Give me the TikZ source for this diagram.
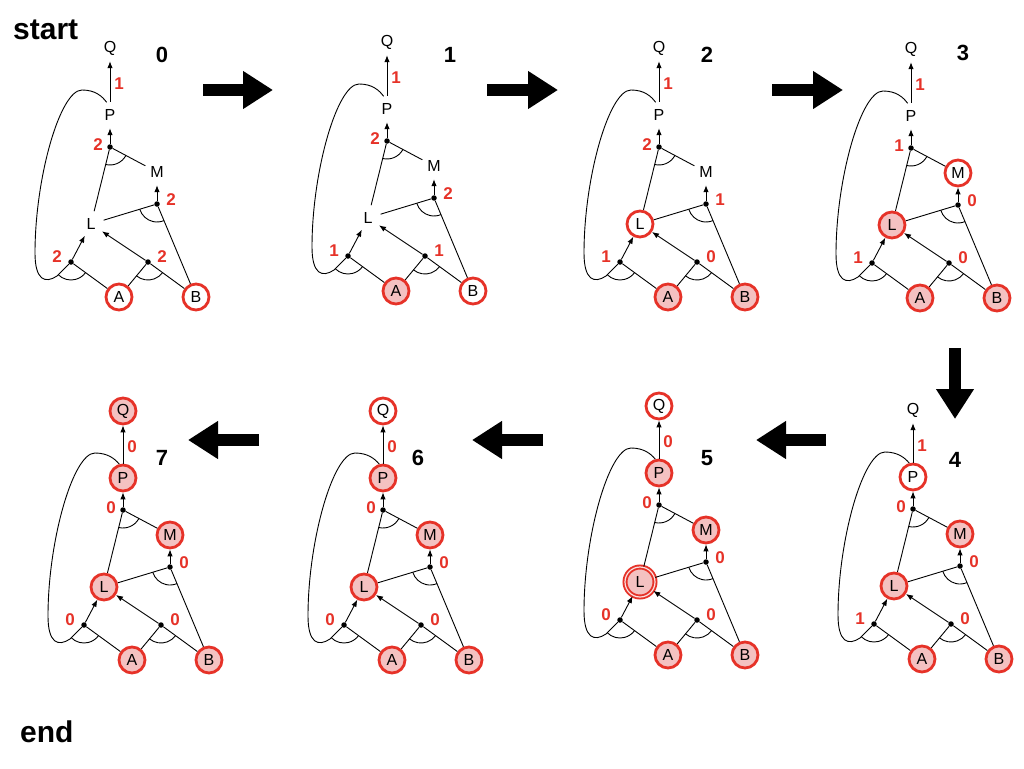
\documentclass[tikz,border=0pt]{standalone}
\usepackage{fontspec}
\setmainfont{Liberation Sans}
\usetikzlibrary{arrows.meta,angles,calc}
\definecolor{ringred}{RGB}{230,50,40}
\definecolor{pinkfill}{RGB}{244,193,193}
\tikzset{
  nd/.style={circle, minimum size=26pt, inner sep=0pt, font=\fontsize{16}{16}\selectfont},
  nst/.style={},
  rst/.style={draw=ringred, line width=2.8pt, fill=white},
  fst/.style={draw=ringred, line width=2.8pt, fill=pinkfill},
  dst/.style={draw=ringred, line width=1.9pt, double=pinkfill!50!white, double distance=1.2pt, fill=pinkfill, minimum size=30pt},
  stQ/.style={}, stP/.style={}, stM/.style={}, stL/.style={}, stA/.style={}, stB/.style={},
  jdot/.style={circle, fill=black, inner sep=0pt, minimum size=5.5pt},
  cnt/.style={text=ringred, font=\fontsize{17}{17}\selectfont\bfseries},
  edge/.style={line width=0.9pt},
  arr/.style={edge, -{Latex[length=7pt,width=5.5pt]}},
  bigarr/.style={line width=12pt, -{Triangle[length=30pt,width=36pt]}},
  pnum/.style={font=\fontsize{22}{22}\selectfont\bfseries},
  titletext/.style={font=\fontsize{30}{30}\selectfont\bfseries, anchor=base west, inner sep=0pt},
  andarc/.style={draw, line width=0.9pt, angle radius=18pt},
}
\newcommand\panelgraph[5]{%
  \node[nd,stQ] (Q) at (0,0) {Q};
  \node[nd,stP] (P) at (0,67) {P};
  \node[nd,stM] (M) at (47,124) {M};
  \node[nd,stL] (L) at (-19,176) {L};
  \node[nd,stA] (A) at (9,249) {A};
  \node[nd,stB] (B) at (86,249) {B};
  \node[jdot] (J1) at (0,99) {};
  \node[jdot] (J2) at (47,156) {};
  \node[jdot] (J3) at (-39,214) {};
  \node[jdot] (J4) at (38,214) {};
  \coordinate (C3) at (-53,228);
  \draw[arr] (P) -- (Q);
  \draw[arr] (J1) -- (P);
  \draw[edge] (J1) -- (L);
  \draw[edge] (J1) -- (M);
  \draw[arr] (J2) -- (M);
  \draw[edge] (J2) -- (L);
  \draw[edge] (J2) -- (B);
  \draw[arr] (J3) -- (L);
  \draw[edge] (J3) -- (A);
  \draw[arr] (J4) -- (L);
  \draw[edge] (J4) -- (A);
  \draw[edge] (J4) -- (B);
  \draw[edge] (J3) -- (C3) .. controls (-65,236) and (-75,232) .. (-75,205)
     .. controls (-75,130) and (-50,42) .. (-28,42)
     .. controls (-15,42) and (-8,48) .. (P.105);
  \pic[andarc] {angle=L--J1--M};
  \pic[andarc] {angle=L--J2--B};
  \pic[andarc] {angle=C3--J3--A};
  \pic[andarc] {angle=A--J4--B};
  \node[cnt] (nPQ) at (9,36) {#1};
  \node[cnt] (nJ1) at (-12,97) {#2};
  \node[cnt] (nJ2) at (61,152) {#3};
  \node[cnt] (nJ3) at (-53,209) {#4};
  \node[cnt] (nJ4) at (52,209) {#5};
}
\begin{document}
\begin{tikzpicture}[x=1pt,y=-1pt]
\useasboundingbox (0,0) rectangle (1024,768);
\fill[white] (0,0) rectangle (1024,768);

\node[titletext] (start) at (13,40) {start};
\node[titletext] (end) at (20,742) {end};

% panel 0
\begin{scope}[shift={(110,48)}, stA/.style=rst, stB/.style=rst]
  \panelgraph{1}{2}{2}{2}{2}
\end{scope}
\node[pnum] (n0) at (162,55) {0};
% panel 1
\begin{scope}[shift={(387,42)}, stA/.style=fst, stB/.style=rst]
  \panelgraph{1}{2}{2}{1}{1}
\end{scope}
\node[pnum] (n1) at (450,55) {1};
% panel 2
\begin{scope}[shift={(659,48)}, stA/.style=fst, stB/.style=fst, stL/.style=rst]
  \panelgraph{1}{2}{1}{1}{0}
\end{scope}
\node[pnum] (n2) at (707,55) {2};
% panel 3
\begin{scope}[shift={(911,49)}, stA/.style=fst, stB/.style=fst, stL/.style=fst, stM/.style=rst]
  \panelgraph{1}{1}{0}{1}{0}
\end{scope}
\node[pnum] (n3) at (963,53) {3};
% panel 4
\begin{scope}[shift={(913,410)}, stA/.style=fst, stB/.style=fst, stL/.style=fst, stM/.style=fst, stP/.style=rst]
  \panelgraph{1}{0}{0}{1}{0}
\end{scope}
\node[pnum] (n4) at (955,460) {4};
% panel 5
\begin{scope}[shift={(659,406)}, stA/.style=fst, stB/.style=fst, stL/.style=dst, stM/.style=fst, stP/.style=fst, stQ/.style=rst]
  \panelgraph{0}{0}{0}{0}{0}
\end{scope}
\node[pnum] (n5) at (707,458) {5};
% panel 6
\begin{scope}[shift={(383,411)}, stA/.style=fst, stB/.style=fst, stL/.style=fst, stM/.style=fst, stP/.style=fst, stQ/.style=rst]
  \panelgraph{0}{0}{0}{0}{0}
\end{scope}
\node[pnum] (n6) at (418,458) {6};
% panel 7
\begin{scope}[shift={(123,411)}, stA/.style=fst, stB/.style=fst, stL/.style=fst, stM/.style=fst, stP/.style=fst, stQ/.style=fst]
  \panelgraph{0}{0}{0}{0}{0}
\end{scope}
\node[pnum] (n7) at (162,458) {7};

% big step arrows
\coordinate (s01) at (203,90);  \coordinate (e01) at (273,90);
\coordinate (s12) at (487,90);  \coordinate (e12) at (558,90);
\coordinate (s23) at (772,90);  \coordinate (e23) at (843,90);
\coordinate (s34) at (955,348); \coordinate (e34) at (955,419);
\coordinate (s45) at (826,440); \coordinate (e45) at (756,440);
\coordinate (s56) at (543,440); \coordinate (e56) at (472,440);
\coordinate (s67) at (259,440); \coordinate (e67) at (188,440);
\draw[bigarr] (s01) -- (e01);
\draw[bigarr] (s12) -- (e12);
\draw[bigarr] (s23) -- (e23);
\draw[bigarr] (s34) -- (e34);
\draw[bigarr] (s45) -- (e45);
\draw[bigarr] (s56) -- (e56);
\draw[bigarr] (s67) -- (e67);
\end{tikzpicture}
\end{document}
